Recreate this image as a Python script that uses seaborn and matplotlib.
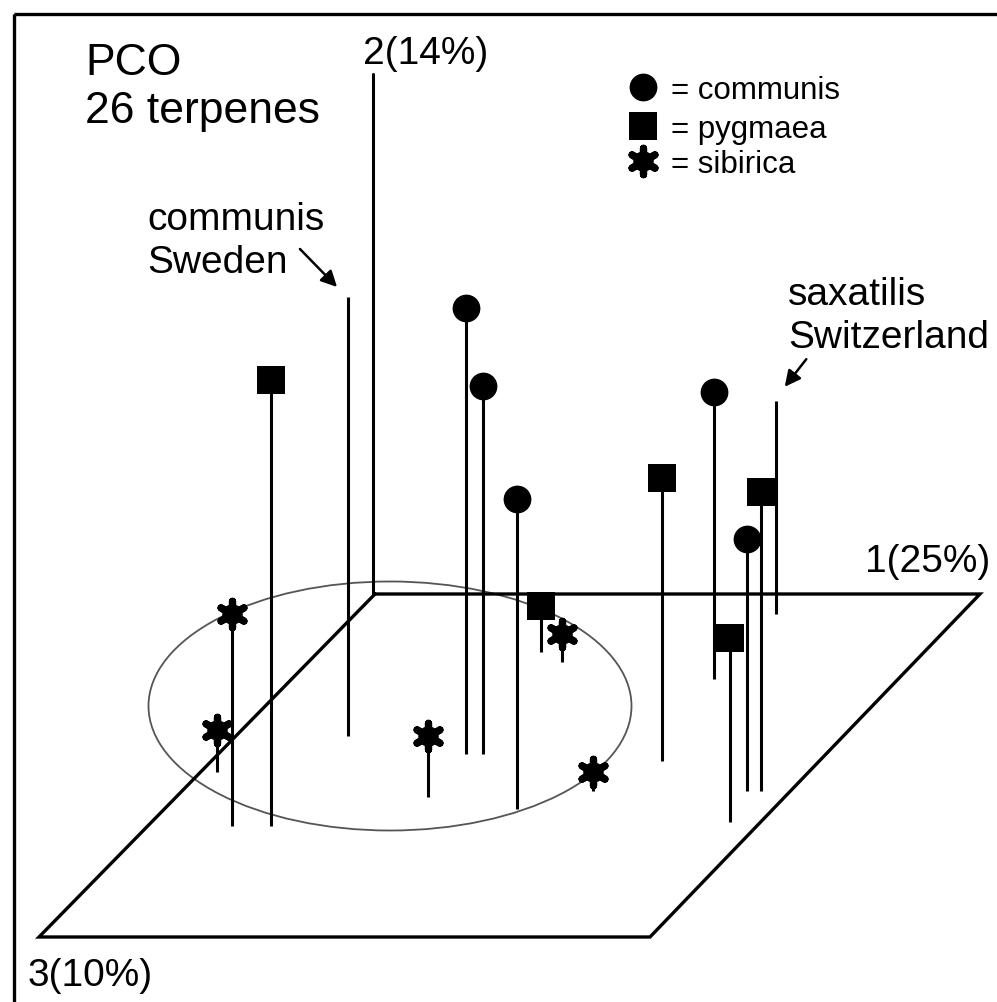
"""
PCO ordination of 26 terpenes, drawn as a pseudo-3D stem plot.
Coordinates are read off the reference picture (pixel units, y downwards).
"""

import matplotlib.pyplot as plt
import numpy as np
import pandas as pd
import seaborn as sns
from matplotlib.patches import Ellipse, Rectangle

# --- stems: x position, marker (top) height, foot on the 1-3 plane ---
stem_x = [271, 348, 466, 483, 517, 662, 714, 730, 747, 761, 776, 541, 562, 593, 232, 217, 428]
stem_top = [381, 298, 309, 387, 500, 479, 393, 639, 540, 493, 402, 607, 635, 773, 615, 731, 737]
stem_base = [827, 737, 755, 755, 810, 762, 680, 823, 792, 792, 615, 653, 663, 792, 827, 773, 798]
stem_kind = ["pygmaea", "none", "communis", "communis", "communis", "pygmaea",
             "communis", "pygmaea", "communis", "pygmaea", "none", "pygmaea",
             "sibirica", "sibirica", "sibirica", "sibirica", "sibirica"]

# --- plane of axes 1 and 3, and axis 2 ---
plane_x = [375, 980, 650, 39, 375]
plane_y = [595, 595, 938, 938, 595]
axis2_x = [373, 373]
axis2_y = [75, 595]

# --- sibirica ellipse (centre, width, height) ---
ell_center = (390, 707)
ell_size = (483, 249)

# --- legend ---
legend_labels = ["communis", "pygmaea", "sibirica"]
legend_y = [88, 127, 162]

MARKERS = {"communis": "o", "pygmaea": "s", "sibirica": (6, 2, 0)}
SIZES = {"communis": 400, "pygmaea": 380, "sibirica": 360}


def draw_marker(ax, data, kind):
    if kind == "sibirica":
        # chunky six-armed asterisk: thick spokes plus a solid hub
        ax.scatter(data["x"], data["y"], marker=(6, 2, 0), s=SIZES[kind],
                   c="black", linewidths=5.2, zorder=5)
        ax.scatter(data["x"], data["y"], marker="o", s=190, c="black", zorder=5)
    else:
        sns.scatterplot(data=data, x="x", y="y", marker=MARKERS[kind], s=SIZES[kind],
                        color="black", edgecolor="black", linewidth=0, ax=ax,
                        legend=False, zorder=5)


def main():
    sns.set_theme(style="white")
    plt.rcParams["font.family"] = ["Liberation Sans", "DejaVu Sans"]
    plt.rcParams["text.color"] = "black"

    df = pd.DataFrame({"x": stem_x, "top": stem_top, "base": stem_base, "kind": stem_kind})

    fig = plt.figure(figsize=(9.97, 10.03), dpi=100)
    ax = fig.add_axes([0, 0, 1, 1])
    ax.set_xlim(0, 997)
    ax.set_ylim(1003, 0)
    ax.axis("off")

    # outer frame (right and bottom fall outside the picture)
    ax.add_patch(Rectangle((14, 15), 1000, 1000, fill=False, lw=2.4, ec="black"))

    # plane and vertical axis
    ax.plot(plane_x, plane_y, color="black", lw=2.4, solid_joinstyle="miter")
    ax.plot(axis2_x, axis2_y, color="black", lw=2.2)

    ax.add_patch(Ellipse(ell_center, ell_size[0], ell_size[1], fill=False,
                         ec="#555555", lw=1.3))

    # stems
    ax.vlines(df["x"], df["top"], df["base"], color="black", lw=2.2, zorder=3)

    for kind in ["communis", "pygmaea", "sibirica"]:
        sub = df[df["kind"] == kind].rename(columns={"top": "y"})
        draw_marker(ax, sub, kind)

    # axis labels
    ax.text(363, 64, "2(14%)", fontsize=28, ha="left", va="baseline")
    ax.text(990, 572, "1(25%)", fontsize=28, ha="right", va="baseline")
    ax.text(28, 986, "3(10%)", fontsize=28, ha="left", va="baseline")

    # title
    ax.text(85, 75, "PCO", fontsize=32, ha="left", va="baseline")
    ax.text(85, 123, "26 terpenes", fontsize=32, ha="left", va="baseline")

    # annotations
    ax.text(147, 230, "communis", fontsize=28, ha="left", va="baseline")
    ax.text(147, 273, "Sweden", fontsize=28, ha="left", va="baseline")
    ax.annotate("", xy=(339, 290), xytext=(298, 248),
                arrowprops=dict(arrowstyle="-|>", color="black", lw=1.8, mutation_scale=24))
    ax.text(788, 305, "saxatilis", fontsize=28, ha="left", va="baseline")
    ax.text(788, 348, "Switzerland", fontsize=28, ha="left", va="baseline")
    ax.annotate("", xy=(783, 390), xytext=(808, 358),
                arrowprops=dict(arrowstyle="-|>", color="black", lw=1.8, mutation_scale=24))

    # legend
    for label, ly in zip(legend_labels, legend_y):
        draw_marker(ax, pd.DataFrame({"x": [643], "y": [ly]}), label)
        ax.text(671, ly + 11, "= " + label, fontsize=22.5, ha="left", va="baseline")

    fig.savefig("out.png", dpi=100, facecolor="white")
    plt.close(fig)


if __name__ == "__main__":
    main()
